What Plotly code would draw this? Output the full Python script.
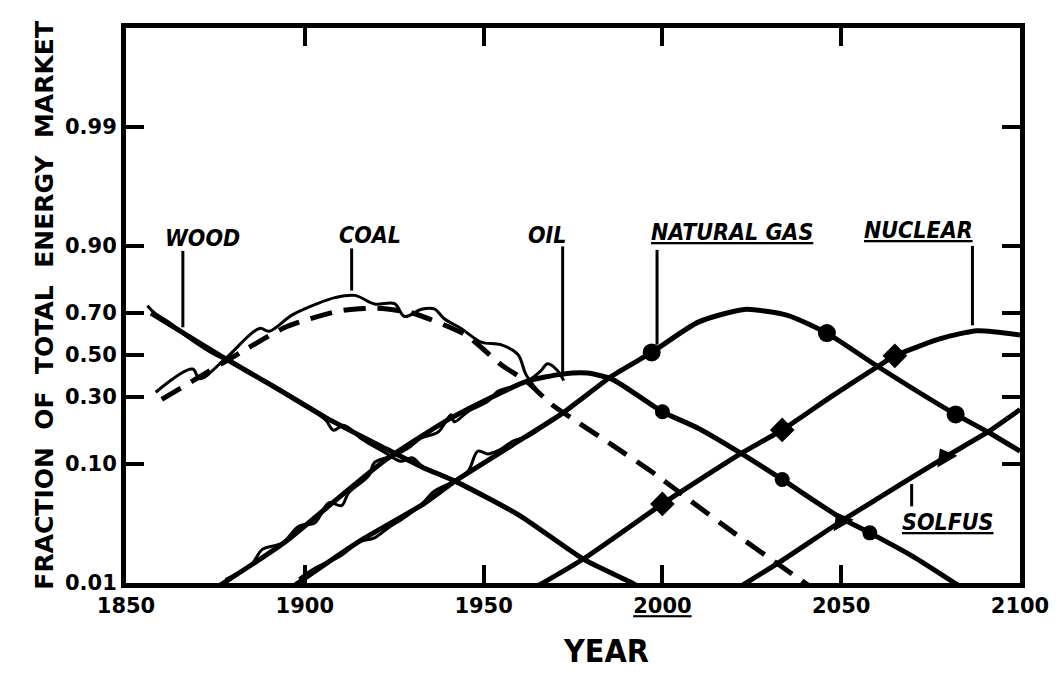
import numpy as np
import plotly.graph_objects as go

# ---------------- data (year, fraction of total energy market) ----------------
wood_years = [1857, 1878, 1892, 1906, 1923, 1933, 1942, 1960, 1978, 1991, 1994]
wood_frac = [0.70, 0.48, 0.34, 0.22, 0.13, 0.094, 0.073, 0.038, 0.016, 0.0102, 0.009]

coal_years = [1860, 1878, 1895, 1910, 1920, 1930, 1945, 1955, 1962, 1969, 1977, 1986, 1998, 2008, 2020, 2033, 2042]
coal_frac = [0.29, 0.47, 0.64, 0.71, 0.72, 0.70, 0.60, 0.45, 0.37, 0.27, 0.20, 0.14, 0.083, 0.050, 0.027, 0.0141, 0.009]

oil_years = [1875, 1894, 1910, 1923, 1941, 1962, 1972, 1979, 1986, 2000, 2010, 2022, 2033.5, 2050, 2058, 2070, 2084]
oil_frac = [0.009, 0.022, 0.055, 0.11, 0.22, 0.37, 0.405, 0.41, 0.38, 0.242, 0.186, 0.121, 0.0753, 0.036, 0.027, 0.017, 0.009]

gas_years = [1896, 1915, 1933, 1942, 1958, 1972, 1986, 1997, 2010, 2023, 2035, 2046, 2060, 2082, 2091, 2100]
gas_frac = [0.009, 0.0226, 0.047, 0.073, 0.14, 0.236, 0.397, 0.513, 0.66, 0.715, 0.69, 0.609, 0.445, 0.232, 0.175, 0.126]

nuclear_years = [1964, 1978, 2000, 2010, 2022, 2033.5, 2047, 2060, 2065, 2078, 2088, 2100]
nuclear_frac = [0.009, 0.0162, 0.0474, 0.0737, 0.121, 0.181, 0.30, 0.44, 0.496, 0.583, 0.62, 0.60]

solfus_years = [2021, 2033, 2050, 2060.5, 2079, 2091, 2100]
solfus_frac = [0.009, 0.0153, 0.0339, 0.0532, 0.113, 0.175, 0.25]

# point markers on the projected curves
oil_mark_years = [2000, 2033.5, 2058]
oil_mark_frac = [0.242, 0.0753, 0.027]
gas_mark_years = [1997, 2046, 2082]
gas_mark_frac = [0.513, 0.609, 0.232]
nuc_mark_years = [2000, 2033.5, 2065]
nuc_mark_frac = [0.0474, 0.181, 0.496]
sol_mark_years = [2050, 2079]
sol_mark_frac = [0.0339, 0.113]

# historical (statistical) data
wood_hist_years = [1856, 1858, 1862, 1868, 1875, 1882, 1890, 1897, 1903, 1906, 1908, 1911, 1916, 1922, 1927, 1930, 1933, 1938, 1942]
wood_hist_frac = [0.73, 0.70, 0.66, 0.58, 0.50, 0.44, 0.36, 0.29, 0.24, 0.21, 0.18, 0.195, 0.155, 0.125, 0.105, 0.112, 0.095, 0.083, 0.073]

coal_hist_years = [1858.3, 1868.6, 1870.6, 1877.8, 1887.3, 1890.0, 1896.4, 1902.8, 1908.4, 1914.0, 1919.5, 1925.1,
                   1927.9, 1932.6, 1936.2, 1939.0, 1943.7, 1949.3, 1954.8, 1959.6, 1961.8, 1965]
coal_hist_frac = [0.321, 0.430, 0.383, 0.482, 0.631, 0.618, 0.691, 0.734, 0.761, 0.769, 0.737, 0.738,
                  0.685, 0.716, 0.717, 0.675, 0.631, 0.565, 0.552, 0.503, 0.405, 0.33]

oil_hist_years = [1877.8, 1885.3, 1888.1, 1893.7, 1898.4, 1902.8, 1906.7, 1910.3, 1912.3, 1917.9, 1919.5, 1925.1, 1929.0,
                  1932.6, 1937.3, 1940.9, 1941.8, 1945.7, 1951.2, 1954.0, 1957.6, 1962.3, 1966.0, 1967.9, 1970.7, 1972.4]
oil_hist_frac = [0.0107, 0.0148, 0.0195, 0.0221, 0.0309, 0.0328, 0.0484, 0.0459, 0.0588, 0.0810, 0.103, 0.117, 0.133,
                 0.158, 0.175, 0.231, 0.207, 0.243, 0.282, 0.325, 0.344, 0.372, 0.421, 0.456, 0.422, 0.374]

gas_hist_years = [1898.4, 1902.8, 1910.3, 1915.1, 1919.5, 1923.4, 1927.9, 1932.6, 1936.2, 1941.8, 1945.7, 1948.4,
                  1951.2, 1954.0, 1958.5, 1962.3, 1966.8, 1972.4]
gas_hist_frac = [0.0109, 0.0134, 0.0174, 0.0226, 0.0245, 0.0299, 0.0364, 0.0469, 0.0603, 0.073, 0.088, 0.126,
                 0.120, 0.127, 0.151, 0.162, 0.192, 0.236]

tick_fracs = [0.01, 0.10, 0.30, 0.50, 0.70, 0.90, 0.99]
tick_labels = ["0.01", "0.10", "0.30", "0.50", "0.70", "0.90", "0.99"]
year_ticks = [1850, 1900, 1950, 2000, 2050, 2100]
year_labels = ["1850", "1900", "1950", "<u>2000</u>", "2050", "2100"]


def logit(f):
    f = np.asarray(f, dtype=float)
    return np.log(f / (1.0 - f))


INK = "black"
fig = go.Figure()

# fitted curves
fit_style = dict(color=INK, width=5)
fig.add_trace(go.Scatter(x=wood_years, y=logit(wood_frac), mode="lines",
                         line=dict(**fit_style, shape="spline", smoothing=0.6)))
fig.add_trace(go.Scatter(x=coal_years, y=logit(coal_frac), mode="lines",
                         line=dict(color=INK, width=5, dash="22px,12px", shape="spline", smoothing=0.6)))
fig.add_trace(go.Scatter(x=oil_years, y=logit(oil_frac), mode="lines",
                         line=dict(**fit_style, shape="spline", smoothing=0.6)))
fig.add_trace(go.Scatter(x=gas_years, y=logit(gas_frac), mode="lines",
                         line=dict(**fit_style, shape="spline", smoothing=0.6)))
fig.add_trace(go.Scatter(x=nuclear_years, y=logit(nuclear_frac), mode="lines",
                         line=dict(**fit_style, shape="spline", smoothing=0.6)))
fig.add_trace(go.Scatter(x=solfus_years, y=logit(solfus_frac), mode="lines",
                         line=dict(**fit_style, shape="spline", smoothing=0.6)))

# historical data
hist_style = dict(color=INK, width=3, shape="spline", smoothing=1.0)
for xs, ys in [(wood_hist_years, wood_hist_frac), (coal_hist_years, coal_hist_frac),
               (oil_hist_years, oil_hist_frac), (gas_hist_years, gas_hist_frac)]:
    fig.add_trace(go.Scatter(x=xs, y=logit(ys), mode="lines", line=hist_style))

# markers
fig.add_trace(go.Scatter(x=oil_mark_years, y=logit(oil_mark_frac), mode="markers",
                         marker=dict(symbol="circle", size=15, color=INK)))
fig.add_trace(go.Scatter(x=gas_mark_years, y=logit(gas_mark_frac), mode="markers",
                         marker=dict(symbol="circle", size=18, color=INK)))
fig.add_trace(go.Scatter(x=nuc_mark_years, y=logit(nuc_mark_frac), mode="markers",
                         marker=dict(symbol="diamond", size=19, color=INK)))
fig.add_trace(go.Scatter(x=sol_mark_years, y=logit(sol_mark_frac), mode="markers",
                         marker=dict(symbol="triangle-up", size=20, color=INK, angle=-30)))

LABEL_FONT = dict(family="Liberation Sans Narrow, DejaVu Sans Condensed, Arial Narrow, sans-serif",
                  size=23, color=INK, weight="bold", style="italic")

labels = [
    ("WOOD", 1871.4, 2.36),
    ("COAL", 1918.1, 2.43),
    ("OIL", 1967.6, 2.42),
    ("<u>NATURAL GAS</u>", 2019.6, 2.49),
    ("<u>NUCLEAR</u>", 2071.6, 2.53),
    ("<u>SOLFUS</u>", 2080.0, -3.36),
]
annotations = [dict(text=t, x=x, y=y, xref="x", yref="y", showarrow=False, font=LABEL_FONT)
               for t, x, y in labels]

# axis titles
annotations.append(dict(text="YEAR", x=0.537, y=-0.16, xref="paper", yref="paper", showarrow=False,
                        font=dict(family="Liberation Sans Narrow, DejaVu Sans Condensed, sans-serif",
                                  size=32, color=INK, weight="bold")))
annotations.append(dict(text="FRACTION\u00a0\u00a0OF\u00a0\u00a0TOTAL\u00a0\u00a0ENERGY\u00a0\u00a0MARKET",
                        x=-0.11, y=0.5, xref="paper", yref="paper", showarrow=False, textangle=-90,
                        font=dict(family="DejaVu Sans, sans-serif", size=25, color=INK, weight="bold")))

# leader lines from labels to curves
leaders = [
    (1865.9, 2.10, 0.56),
    (1913.1, 2.15, 1.30),
    (1972.1, 2.19, -0.43),
    (1998.5, 2.12, 0.21),
    (2086.7, 2.20, 0.60),
    (2069.7, -2.60, -3.05),
]
shapes = [dict(type="line", xref="x", yref="y", x0=x, x1=x, y0=y0, y1=y1,
               line=dict(color=INK, width=3)) for x, y0, y1 in leaders]

TICK_FONT = dict(family="DejaVu Sans, sans-serif", size=21, color=INK, weight="bold")

fig.update_layout(
    width=1063, height=681,
    margin=dict(l=118, r=51, t=20, b=106),
    paper_bgcolor="white", plot_bgcolor="white",
    showlegend=False,
    annotations=annotations,
    shapes=shapes,
    xaxis=dict(range=[1850, 2100], tickvals=year_ticks, ticktext=year_labels,
               showgrid=False, zeroline=False, showline=True, linewidth=5, linecolor=INK,
               mirror="ticks", ticks="inside", ticklen=18, tickwidth=4, tickcolor=INK,
               tickfont=TICK_FONT),
    yaxis=dict(range=[float(logit(0.01)), 6.593], tickvals=list(logit(tick_fracs)), ticktext=tick_labels,
               showgrid=False, zeroline=False, showline=True, linewidth=5, linecolor=INK,
               mirror="ticks", ticks="inside", ticklen=18, tickwidth=4, tickcolor=INK,
               tickfont=TICK_FONT),
)

fig.write_html("out.html")
